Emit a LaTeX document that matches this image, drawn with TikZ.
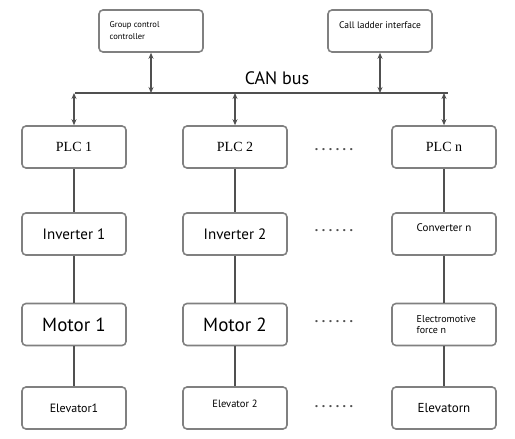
\documentclass[tikz,border=0pt]{standalone}
\usepackage{fontspec}
\setmainfont{PT Sans}
\newfontfamily\plcfont{Liberation Serif}
\usepackage{tikz}
\usetikzlibrary{arrows.meta,positioning}
\definecolor{boxgray}{RGB}{128,128,128}
\definecolor{linegray}{RGB}{80,80,80}
\newcommand{\fsz}[1]{\fontsize{#1}{#1}\selectfont}
\newcommand{\gapdots}{.\hspace{3.5pt}.\hspace{3.5pt}.\hspace{3.5pt}.\hspace{3.5pt}.\hspace{3.5pt}.}

\begin{document}
\begin{tikzpicture}[x=1pt,y=-1pt,
		box/.style={draw=boxgray,line width=1.6pt,rounded corners=4pt,minimum width=104pt,minimum height=42pt,inner sep=0pt},
		link/.style={draw=linegray,line width=1.4pt},
		dual/.style={link,{Stealth[length=6pt,width=5pt]}-{Stealth[length=6pt,width=5pt]}},
		gap/.style={text=linegray,font=\fsz{14}\bfseries}]
		\useasboundingbox (0,0) rectangle (515,439);
		\node[box] (gcc) at (151,31) {};
		\node[anchor=north west,align=left,font=\fsz{8.5}] (gcctext) at ([xshift=8pt,yshift=-9pt]gcc.north west) {Group control\\[3pt]controller};
		\node[box] (cli) at (380,31) {};
		\node[font=\fsz{9.5}] (clitext) at ([yshift=6pt]cli.center) {Call ladder interface};
		\node[font=\fsz{18}] (can) at (277,78) {CAN bus};
		\node[box,font=\plcfont\fsz{14}] (plc1) at (74,147) {PLC 1};
		\node[box,font=\plcfont\fsz{14}] (plc2) at (235,147) {PLC 2};
		\node[box,font=\plcfont\fsz{14}] (plcn) at (444,147) {PLC n};
		\node[box,font=\fsz{15}] (inv1) at (74,234) {Inverter 1};
		\node[box,font=\fsz{15}] (inv2) at (235,234) {Inverter 2};
		\node[box] (cvn) at (444,234) {};
		\node[font=\fsz{11}] (cvntext) at ([yshift=6pt]cvn.center) {Converter n};
		\node[box,font=\fsz{19}] (mot1) at (74,324.5) {Motor 1};
		\node[box,font=\fsz{19}] (mot2) at (235,324.5) {Motor 2};
		\node[box] (emf) at (444,324.5) {};
		\node[anchor=west,align=left,font=\fsz{10}] (emftext) at ([xshift=22pt]emf.west) {Electromotive\\[1pt]force n};
		\node[box,font=\fsz{12}] (elv1) at (74,408) {Elevator1};
		\node[box] (elv2) at (235,408) {};
		\node[font=\fsz{10.5}] (elv2text) at ([yshift=4pt]elv2.center) {Elevator 2};
		\node[box,font=\fsz{13}] (elvn) at (444,408) {Elevatorn};
		\node[gap] (dots1) at (334,150) {\gapdots};
		\node[gap] (dots2) at (334,231) {\gapdots};
		\node[gap] (dots3) at (334,322) {\gapdots};
		\node[gap] (dots4) at (334,407) {\gapdots};
		\coordinate (busL) at (75,93);
		\coordinate (busR) at (448,93);
		\draw[link] (busL) -- (busR);
		\draw[dual] (gcc.south) -- (gcc.south |- busL);
		\draw[dual] (cli.south |- busL) -- (cli.south);
		\foreach \col in {plc1,plc2,plcn}
			\draw[dual] (\col.north |- busL) -- (\col.north);
		\draw[link] (plc1) -- (inv1) -- (mot1) -- (elv1);
		\draw[link] (plc2) -- (inv2) -- (mot2) -- (elv2);
		\draw[link] (plcn) -- (cvn) -- (emf) -- (elvn);
	\end{tikzpicture}
\end{document}
